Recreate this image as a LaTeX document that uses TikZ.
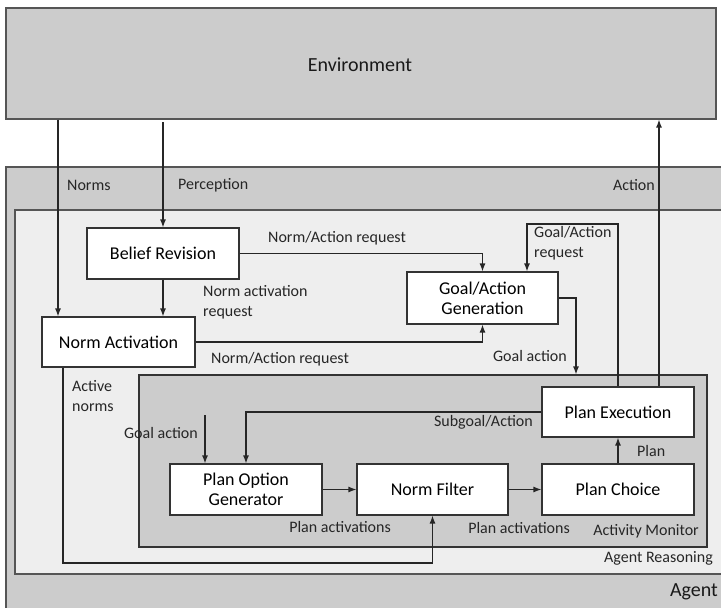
\documentclass[tikz,border=0pt]{standalone}
\usepackage{fontspec}
\setmainfont{Carlito}
\usetikzlibrary{arrows.meta}
\definecolor{regiongray}{HTML}{CCCCCC}
\definecolor{lightgray}{HTML}{EEEEEE}
\definecolor{edgegray}{HTML}{555555}
\definecolor{boxedge}{HTML}{333333}
\tikzset{
  region/.style={draw=edgegray, line width=1.1pt, inner sep=0pt},
  procbox/.style={draw=boxedge, line width=1.1pt, fill=white, inner sep=0pt,
    minimum width=152pt, minimum height=51pt, align=center,
    font=\fontsize{18}{21}\selectfont},
  arr/.style={draw=black!85, line width=1.3pt, -{Latex[length=8pt,width=6pt]}},
  lbl/.style={inner sep=0pt, align=left, font=\fontsize{16}{20}\selectfont, text=black!85},
  biglbl/.style={inner sep=0pt, font=\fontsize{20}{23}\selectfont, text=black!90}
}
\begin{document}
\begin{tikzpicture}[x=1pt, y=-1pt]
\useasboundingbox (0,0) rectangle (721,608);
\fill[white] (0,0) rectangle (721,608);

% nested regions
\node[region, fill=regiongray, minimum width=710pt, minimum height=111pt] (env) at (361,63.5) {};
\node[biglbl] (envlbl) at (360,65) {Environment};
\node[region, fill=regiongray, minimum width=724pt, minimum height=453pt] (agent) at (368,393.5) {};
\node[region, fill=lightgray, minimum width=715pt, minimum height=364pt] (reason) at (372.5,392) {};
\node[region, draw=boxedge, fill=regiongray, minimum width=568pt, minimum height=172pt] (monitor) at (423,461) {};

% processing components
\node[procbox] (br) at (163,253.5) {Belief Revision};
\node[procbox, minimum width=153pt, minimum height=50pt] (na) at (118.5,342) {Norm Activation};
\node[procbox, minimum width=151pt, minimum height=52pt] (gag) at (482.5,298) {Goal/Action\\[-1pt]Generation};
\node[procbox, minimum height=50pt] (pe) at (618,412) {Plan Execution};
\node[procbox] (pc) at (618,489.5) {Plan Choice};
\node[procbox, minimum width=151pt] (nf) at (432.5,489.5) {Norm Filter};
\node[procbox] (pog) at (246,489.5) {Plan Option\\[-1pt]Generator};

% helper points for connector routes
\coordinate (normx) at (58,0);
\coordinate (perc) at (163,122);
\coordinate (actx) at (659,0);
\coordinate (loop) at (527,224);
\coordinate (gax) at (576,0);
\coordinate (goalin) at (205,415);
\coordinate (actn) at (63,563);

% connectors
\draw[arr] (env.south -| normx) -- (na.north -| normx);
\draw[arr] (perc) -- (br.north);
\draw[arr] (pe.north -| actx) -- (env.south -| actx);
\draw[arr] (br.east) -| (gag.north);
\draw[arr] (br.south) -- (br.south |- na.north);
\draw[arr] (na.east) -| (gag.south);
\draw[arr] (pe.north) |- (loop) -- (gag.north -| loop);
\draw[arr] (gag.east) -| (monitor.north -| gax);
\draw[arr] (pe.west) -| (pog.north);
\draw[arr] (goalin) -- (pog.north -| goalin);
\draw[arr] (pog.east) -- (nf.west);
\draw[arr] (nf.east) -- (pc.west);
\draw[arr] (pc.north) -- (pe.south);
\draw[arr] (na.south -| actn) -- (actn) -| (nf.south);

% connector labels
\node[lbl, anchor=west] (lnorms) at (67,185) {Norms};
\node[lbl, anchor=west] (lperc) at (178,185) {Perception};
\node[lbl, anchor=east] (lact) at (655,185) {Action};
\node[lbl, anchor=west] (lreq1) at (268,238) {Norm/Action request};
\node[lbl, anchor=west] (lnar) at (203,302) {Norm activation\\request};
\node[lbl, anchor=west] (lreq2) at (211,359) {Norm/Action request};
\node[lbl, anchor=west] (lgar) at (534,243) {Goal/Action\\request};
\node[lbl, anchor=east] (lga1) at (567,356) {Goal action};
\node[lbl, anchor=west] (lactive) at (72,396) {Active\\norms};
\node[lbl, anchor=east] (lga2) at (198,433) {Goal action};
\node[lbl, anchor=east] (lsub) at (533,422) {Subgoal/Action};
\node[lbl, anchor=west] (lplan) at (637,451) {Plan};
\node[lbl, anchor=east] (lpa1) at (391,527) {Plan activations};
\node[lbl, anchor=east] (lpa2) at (570,528) {Plan activations};
\node[lbl, anchor=east] (lmon) at (699,531) {Activity Monitor};
\node[lbl, anchor=east] (lreason) at (713,558) {Agent Reasoning};
\node[biglbl, anchor=east] (lagent) at (718,592) {Agent};
\end{tikzpicture}
\end{document}
